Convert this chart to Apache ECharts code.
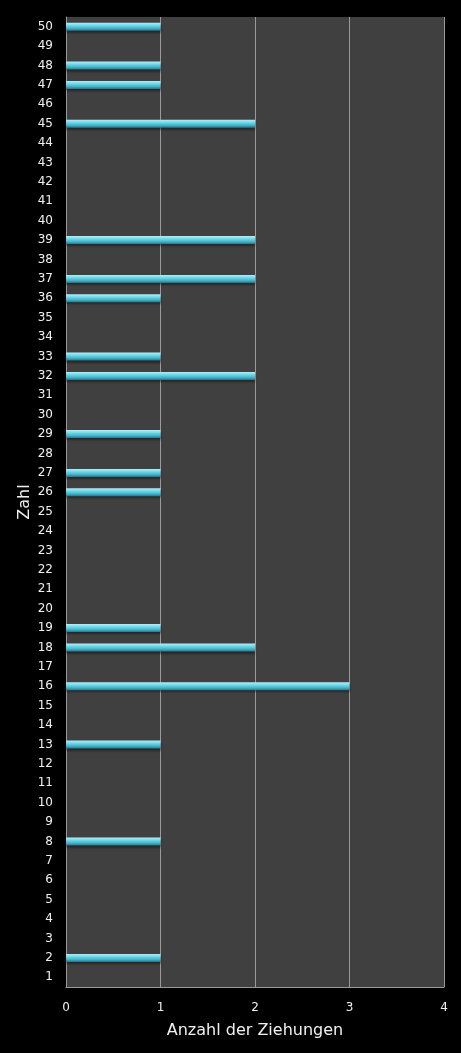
<!DOCTYPE html>
<html>
<head>
<meta charset="utf-8">
<script src="https://cdn.jsdelivr.net/npm/echarts@6/dist/echarts.min.js"></script>
<style>
html, body { margin: 0; padding: 0; background: #000; }
#container { width: 461px; height: 1053px; }
</style>
</head>
<body>
<div id="container"></div>
<script>
// Zahlen 1..50 und wie oft sie gezogen wurden
var zahlen = [];
for (var i = 1; i <= 50; i++) zahlen.push(String(i));
var anzahl = [0, 1, 0, 0, 0, 0, 0, 1, 0, 0,
              0, 0, 1, 0, 0, 3, 0, 2, 1, 0,
              0, 0, 0, 0, 0, 1, 1, 0, 1, 0,
              0, 2, 1, 0, 0, 1, 2, 0, 2, 0,
              0, 0, 0, 0, 2, 0, 1, 1, 0, 1];
var xTicks = [0, 1, 2, 3, 4];

var myChart = echarts.init(document.getElementById('container'));
var option = {
    backgroundColor: '#000',
    animation: false,
    grid: {
        left: 66,
        right: 17,
        top: 17,
        bottom: 66,
        show: true,
        backgroundColor: '#404040',
        borderWidth: 0
    },
    xAxis: {
        type: 'value',
        min: xTicks[0],
        max: xTicks[xTicks.length - 1],
        interval: 1,
        name: 'Anzahl der Ziehungen',
        nameLocation: 'middle',
        nameGap: 36,
        nameTextStyle: { color: '#f0f0f0', fontSize: 16, fontFamily: 'DejaVu Sans' },
        axisLine: { show: true, lineStyle: { color: '#9a9a9a', width: 1 } },
        axisTick: { show: false },
        axisLabel: { color: '#f0f0f0', fontSize: 12, fontFamily: 'DejaVu Sans', margin: 15 },
        splitLine: { show: true, lineStyle: { color: '#9a9a9a', width: 1 } }
    },
    yAxis: {
        type: 'category',
        data: zahlen,
        name: 'Zahl',
        nameLocation: 'middle',
        nameGap: 33,
        nameMoveOverlap: false,
        nameTextStyle: { color: '#f0f0f0', fontSize: 16, fontFamily: 'DejaVu Sans' },
        axisLine: { show: true, lineStyle: { color: '#9a9a9a', width: 1 } },
        axisTick: { show: false },
        axisLabel: { color: '#f0f0f0', fontSize: 12, fontFamily: 'DejaVu Sans', margin: 13, interval: 0 },
        splitLine: { show: false }
    },
    series: [
        {
            type: 'bar',
            data: anzahl,
            barWidth: 8,
            itemStyle: {
                color: new echarts.graphic.LinearGradient(0, 0, 0, 1, [
                    { offset: 0, color: '#aef0fa' },
                    { offset: 0.35, color: '#6fd8ea' },
                    { offset: 0.7, color: '#45b2c8' },
                    { offset: 1, color: '#2a7486' }
                ]),
                shadowColor: 'rgba(0,0,0,0.4)',
                shadowOffsetY: 2,
                shadowBlur: 2
            }
        }
    ]
};
myChart.setOption(option);
</script>
</body>
</html>
